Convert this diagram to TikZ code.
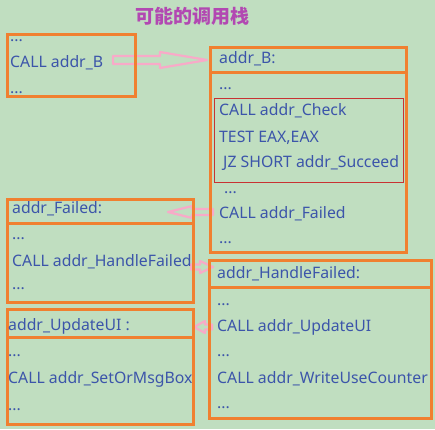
\documentclass[tikz,border=0pt]{standalone}
\usepackage{fontspec}
\setmainfont{Noto Sans}
\newfontfamily\cjk{Noto Sans CJK SC}
\definecolor{bg}{RGB}{192,222,192}
\definecolor{org}{RGB}{240,128,48}
\definecolor{txt}{RGB}{60,85,170}
\definecolor{rd}{RGB}{200,50,50}
\definecolor{pk}{RGB}{248,170,200}
\definecolor{ttl}{RGB}{178,72,178}
\begin{document}
\begin{tikzpicture}[x=1pt,y=-1pt,
  obox/.style={draw=org, line width=3pt, inner sep=0pt, outer sep=0pt, anchor=north west},
  rbox/.style={draw=rd, line width=1pt, inner sep=0pt, outer sep=0pt, anchor=north west},
  t/.style={anchor=base west, inner sep=0pt, text=txt, font=\fontsize{15.8}{18}\selectfont},
  parrow/.style={draw=pk, line width=2.2pt, line join=round, fill=bg}]
\fill[bg] (0,0) rectangle (435,429);
\useasboundingbox (0,0) rectangle (435,429);
% title
\node[font=\cjk\bfseries\fontsize{19}{21}\selectfont, text=ttl] (title) at (192,16.5) {可能的调用栈};
% arrows (drawn below the boxes)
\draw[parrow] (113,56)--(160,56)--(160,52)--(207,60)--(160,68)--(160,64)--(113,64)--cycle;
\draw[parrow] (213,209)--(192,209)--(192,206)--(168,212)--(192,218)--(192,215)--(213,215)--cycle;
\draw[parrow] (191,264.5)--(200,264.5)--(200,261)--(213,267)--(200,273)--(200,269.5)--(191,269.5)--cycle;
\draw[parrow] (212,324.5)--(205,324.5)--(205,321)--(194,327)--(205,333)--(205,329.5)--(212,329.5)--cycle;
% boxes
\node[obox, minimum width=128pt, minimum height=61.5pt] (b1) at (7,34.5) {};
\node[obox, minimum width=196pt, minimum height=24.5pt] (bh) at (210,47.5) {};
\node[obox, minimum width=196pt, minimum height=180pt] (bb) at (210,72) {};
\node[rbox, minimum width=188.5pt, minimum height=83.5pt] (chk) at (214.5,98.5) {};
\node[obox, minimum width=186pt, minimum height=23.5pt] (fh) at (7,199.5) {};
\node[obox, minimum width=186pt, minimum height=79pt] (fb) at (7,223) {};
\node[obox, minimum width=186pt, minimum height=28pt] (uh) at (7,309) {};
\node[obox, minimum width=186pt, minimum height=87pt] (ub) at (7,337) {};
\node[obox, minimum width=221.5pt, minimum height=27pt] (hh) at (209.5,260) {};
\node[obox, minimum width=221.5pt, minimum height=131pt] (hb) at (209.5,287) {};
% texts box 1
\node[t] (b1a) at (10,41) {...};
\node[t] (b1b) at (10,67) {CALL addr\_B};
\node[t] (b1c) at (10,93) {...};
% addr_B
\node[t] (bt) at (219,63.5) {addr\_B:};
\node[t] (bt1) at (219,89) {...};
\node[t] (bt2) at (219,115) {CALL addr\_Check};
\node[t] (bt3) at (219,142) {TEST EAX,EAX};
\node[t] (bt4) at (223,167) {JZ SHORT addr\_Succeed};
\node[t] (bt5) at (224,193) {...};
\node[t] (bt6) at (219,218) {CALL addr\_Failed};
\node[t] (bt7) at (219,243) {...};
% addr_Failed
\node[t] (ft) at (12,213) {addr\_Failed:};
\node[t] (ft1) at (12,239) {...};
\node[t] (ft2) at (12,266) {CALL addr\_HandleFailed};
\node[t] (ft3) at (12,289) {...};
% addr_UpdateUI
\node[t] (ut) at (8,330) {addr\_UpdateUI :};
\node[t] (ut1) at (8,356) {...};
\node[t] (ut2) at (8,383) {CALL addr\_SetOrMsgBox};
\node[t] (ut3) at (8,410) {...};
% addr_HandleFailed
\node[t] (ht) at (217,278) {addr\_HandleFailed:};
\node[t] (ht1) at (217,305) {...};
\node[t] (ht2) at (217,331) {CALL addr\_UpdateUI};
\node[t] (ht3) at (217,356) {...};
\node[t] (ht4) at (217,383) {CALL addr\_WriteUseCounter};
\node[t] (ht5) at (217,408) {...};
\end{tikzpicture}
\end{document}
